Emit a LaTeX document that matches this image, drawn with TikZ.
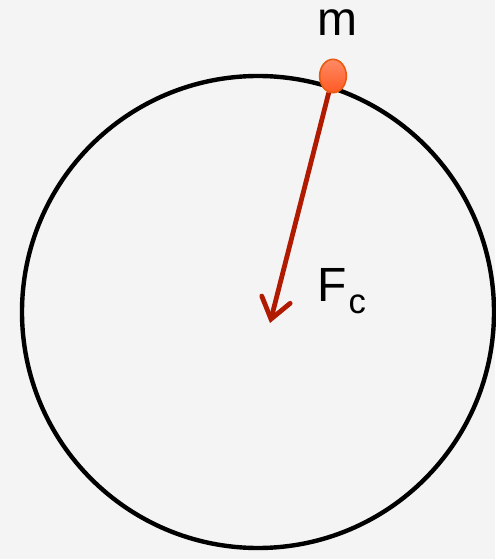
\documentclass[tikz,border=0pt]{standalone}
\usepackage{fontspec}
\setmainfont{Liberation Sans}
\usepackage{xcolor}
\usetikzlibrary{arrows.meta, positioning, shapes.geometric}
\definecolor{bgcol}{HTML}{F4F4F4}
\definecolor{forcecol}{HTML}{B01A00}
\definecolor{masstop}{HTML}{FF8A66}
\definecolor{massbot}{HTML}{FF5A22}
\definecolor{massedge}{HTML}{E85A10}

\begin{document}
\begin{tikzpicture}[
  x=0.75pt, y=-0.75pt,
  orbit/.style={draw=black, line width=3.3pt},
  massdot/.style={ellipse, draw=massedge, line width=1.2pt, top color=masstop, bottom color=massbot,
    minimum width=20pt, minimum height=25pt, inner sep=0pt},
  forcearrow/.style={-{Straight Barb[length=15pt, width=22pt, line cap=round]}, draw=forcecol, line width=3.6pt},
  lbl/.style={font=\fontsize{36}{40}\selectfont, inner sep=0pt}
]
  \fill[bgcol] (0,0) rectangle (495,559);
  \useasboundingbox (0,0) rectangle (495,559);
  \coordinate (ctr) at (258,312);
  \draw[orbit] (ctr) circle[radius=236];
  \node[massdot] (mass) at (333,76) {};
  \coordinate (tip) at (270,323);
  \draw[forcearrow] (mass) -- (tip);
  \node[lbl, anchor=base] (mlbl) at (337,36) {m};
  \node[lbl, anchor=base west] (flbl) at (317,301) {F\hspace{1.5pt}\raisebox{-9pt}{\fontsize{26}{30}\selectfont c}};
\end{tikzpicture}
\end{document}
